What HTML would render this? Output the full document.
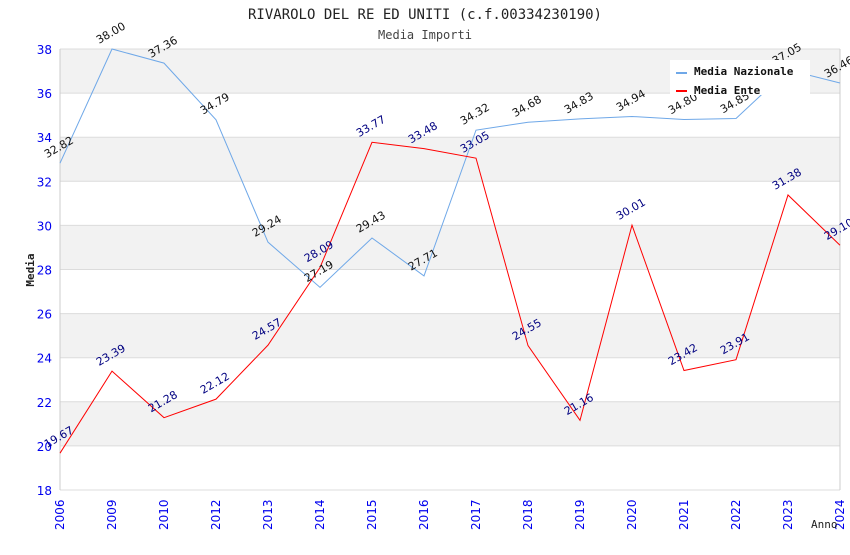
<!DOCTYPE html>
<html><head><meta charset="utf-8"><style>
body{margin:0;background:#fff;}
svg text{font-family:"DejaVu Sans Mono","Liberation Mono",monospace;}
svg text.s{font-family:"DejaVu Sans","Liberation Sans",sans-serif;}
</style></head><body>
<svg id="c" width="850" height="550" xmlns="http://www.w3.org/2000/svg">
<text x="425" y="19" text-anchor="middle" font-size="14" fill="#222">RIVAROLO DEL RE ED UNITI (c.f.00334230190)</text>
<text x="425" y="39" text-anchor="middle" font-size="12" fill="#444">Media Importi</text>
<g id="grid"></g>
<g id="series"></g>
<g id="labels"></g>
<text transform="translate(34,270) rotate(-90)" text-anchor="middle" font-size="11" font-weight="bold" fill="#222">Media</text>
<text x="811" y="528" font-size="11" fill="#222">Anno</text>
<g>
<rect x="670" y="60" width="140" height="35" fill="#fff"/>
<line x1="676" y1="73" x2="687" y2="73" stroke="#6fa8e8" stroke-width="2"/>
<text x="694" y="75" font-size="11" font-weight="bold" fill="#111">Media Nazionale</text>
<line x1="676" y1="91" x2="687" y2="91" stroke="#ff0000" stroke-width="2"/>
<text x="694" y="94" font-size="11" font-weight="bold" fill="#111">Media Ente</text>
</g>
</svg>
<script>
const categories=["2006","2009","2010","2012","2013","2014","2015","2016","2017","2018","2019","2020","2021","2022","2023","2024"];
const nazionale=[32.82,38.00,37.36,34.79,29.24,27.19,29.43,27.71,34.32,34.68,34.83,34.94,34.80,34.85,37.05,36.46];
const ente=[19.67,23.39,21.28,22.12,24.57,28.09,33.77,33.48,33.05,24.55,21.16,30.01,23.42,23.91,31.38,29.10];
const yTicks=[18,20,22,24,26,28,30,32,34,36,38];
const NS="http://www.w3.org/2000/svg";
const L=60,R=840,T=49,B=490,yMin=18,yMax=38;
const x=i=>L+i*(R-L)/(categories.length-1);
const y=v=>B-(v-yMin)/(yMax-yMin)*(B-T);
function mk(tag,attrs,parent){const e=document.createElementNS(NS,tag);for(const k in attrs)e.setAttribute(k,attrs[k]);parent.appendChild(e);return e;}
const grid=document.getElementById('grid'),ser=document.getElementById('series'),lab=document.getElementById('labels');
for(let k=0;k<yTicks.length-1;k++){
  if(k%2===1){const r=mk('rect',{x:L,y:y(yTicks[k+1]),width:R-L,height:y(yTicks[k])-y(yTicks[k+1]),fill:'#f2f2f2'},grid);
  
  }
}
yTicks.forEach(v=>{
  const l=mk('line',{x1:L,x2:R,y1:y(v),y2:y(v),stroke:'#dcdcdc'},grid);
  
  
  const t=mk('text',{x:L-8,y:y(v)+5,'text-anchor':'end','font-size':12,fill:'#0000ee',class:'s'},grid);t.textContent=v;
  
  
});
mk('line',{x1:L,x2:L,y1:T,y2:B,stroke:'#ccc'},grid);
mk('line',{x1:R,x2:R,y1:T,y2:B,stroke:'#ccc'},grid);
categories.forEach((c,i)=>{
  const t=mk('text',{transform:`translate(${x(i)+4},${B+40}) rotate(-90)`,'font-size':12,fill:'#0000ee',class:'s'},grid);t.textContent=c;
  
  
});
function series(vals,color,lc,name){
  const p=mk('polyline',{points:vals.map((v,i)=>x(i)+','+y(v)).join(' '),fill:'none',stroke:color,'stroke-width':1},ser);
  
  
  vals.forEach((v,i)=>{
    const t=mk('text',{transform:`translate(${x(i)-13},${y(v)-5}) rotate(-30)`,'font-size':11,fill:lc,class:'s'},lab);t.textContent=v.toFixed(2);
    
    
  });
}
series(nazionale,'#6fa8e8','#111','nazionale');
series(ente,'#ff0000','#000080','ente');
</script>
</body></html>
